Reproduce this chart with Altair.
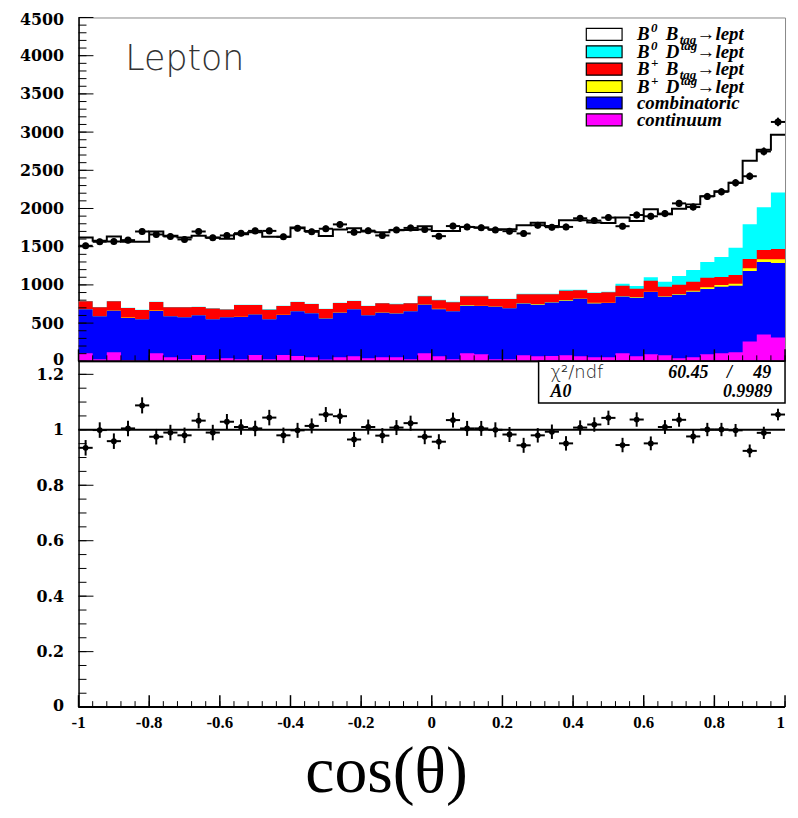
import altair as alt
import numpy as np
import pandas as pd

# ---------------- values ----------------
mc_total = [1621, 1577, 1634, 1564, 1564, 1699, 1642, 1621, 1642, 1621,
            1603, 1664, 1690, 1629, 1629, 1751, 1707, 1640, 1725, 1742,
            1700, 1690, 1716, 1720, 1768, 1707, 1707, 1759, 1750, 1727,
            1727, 1781, 1813, 1772, 1846, 1846, 1816, 1811, 1881, 1837,
            1989, 1924, 1998, 2054, 2162, 2227, 2336, 2626, 2769, 2964]
data_counts = [1512, 1564, 1568, 1586, 1699, 1660, 1634, 1595, 1699, 1616,
               1647, 1677, 1707, 1707, 1629, 1742, 1695, 1735, 1792, 1690,
               1710, 1647, 1720, 1746, 1725, 1638, 1770, 1759, 1748, 1720,
               1703, 1673, 1781, 1755, 1759, 1872, 1842, 1881, 1768, 1915,
               1898, 1933, 2067, 2019, 2158, 2218, 2336, 2422, 2747, 3133]
data_err = [39, 40, 40, 40, 41, 41, 40, 40, 41, 40,
            41, 41, 41, 41, 40, 42, 41, 42, 42, 41,
            41, 41, 41, 42, 42, 40, 42, 42, 42, 41,
            41, 41, 42, 42, 42, 43, 43, 43, 42, 44,
            44, 44, 45, 45, 46, 47, 48, 49, 52, 56]
# stack tops (each component drawn from 0, as THStack does)
top_b0_d = [789, 711, 789, 702, 676, 780, 711, 711, 715, 693,
            680, 741, 741, 680, 728, 780, 754, 689, 767, 793,
            728, 763, 754, 763, 858, 806, 780, 858, 858, 819,
            819, 884, 884, 884, 936, 936, 901, 910, 1014, 984,
            1101, 1040, 1118, 1196, 1300, 1365, 1486, 1794, 2015, 2210]
top_bp_btag = [785, 708, 785, 698, 672, 776, 708, 707, 712, 690,
               677, 737, 737, 676, 724, 776, 750, 686, 763, 789,
               724, 759, 748, 759, 852, 800, 774, 852, 850, 815,
               815, 878, 878, 878, 923, 930, 895, 905, 988, 949,
               1053, 975, 1001, 1040, 1092, 1105, 1131, 1339, 1456, 1469]
top_bp_d = [683, 592, 666, 572, 553, 665, 593, 580, 606, 553,
            580, 584, 614, 555, 610, 657, 631, 562, 640, 683,
            606, 640, 630, 657, 744, 688, 657, 736, 728, 718,
            697, 762, 749, 775, 802, 823, 767, 766, 855, 840,
            911, 853, 880, 925, 970, 1000, 1015, 1218, 1335, 1335]
top_comb = [680, 589, 663, 568, 550, 659, 590, 577, 603, 550,
            577, 581, 611, 550, 607, 654, 628, 559, 637, 680,
            603, 637, 624, 654, 741, 680, 654, 728, 724, 715,
            693, 758, 741, 771, 793, 819, 758, 762, 849, 832,
            906, 845, 871, 910, 945, 975, 988, 1183, 1300, 1287]
top_cont = [104, 26, 117, 15, 10, 104, 52, 26, 82, 26,
            40, 26, 82, 26, 82, 69, 52, 22, 52, 65,
            40, 52, 52, 26, 104, 65, 26, 104, 91, 26,
            26, 78, 65, 69, 78, 65, 52, 52, 104, 65,
            91, 78, 39, 52, 91, 104, 117, 260, 351, 312]
ratio = [0.935, 0.999, 0.959, 1.005, 1.088, 0.975, 0.990, 0.980, 1.033, 0.990,
         1.029, 1.010, 1.005, 1.044, 0.980, 0.998, 1.014, 1.055, 1.049, 0.965,
         1.010, 0.979, 1.008, 1.024, 0.975, 0.957, 1.035, 1.005, 1.005, 1.000,
         0.983, 0.944, 0.980, 0.993, 0.951, 1.008, 1.019, 1.043, 0.945, 1.037,
         0.951, 1.010, 1.036, 0.976, 1.001, 1.001, 0.998, 0.924, 0.989, 1.055]
ratio_err = [0.028, 0.028, 0.028, 0.028, 0.029, 0.028, 0.028, 0.028, 0.028, 0.028,
             0.028, 0.028, 0.028, 0.028, 0.028, 0.027, 0.027, 0.027, 0.027, 0.027,
             0.027, 0.027, 0.027, 0.027, 0.027, 0.027, 0.027, 0.027, 0.027, 0.027,
             0.027, 0.027, 0.026, 0.026, 0.026, 0.026, 0.026, 0.026, 0.026, 0.026,
             0.025, 0.025, 0.025, 0.025, 0.024, 0.024, 0.023, 0.023, 0.022, 0.021]

top_y_major = [0, 500, 1000, 1500, 2000, 2500, 3000, 3500, 4000, 4500]
top_y_minor = [v for v in range(0, 4501, 100)]
bot_y_major = [0, 0.2, 0.4, 0.6, 0.8, 1.0, 1.2]
bot_y_minor = [round(0.05 * i, 2) for i in range(0, 25)]
x_major = [-1, -0.8, -0.6, -0.4, -0.2, 0, 0.2, 0.4, 0.6, 0.8, 1]
x_minor = [round(-1 + 0.04 * i, 2) for i in range(51)]
x_labels = ["-1", "-0.8", "-0.6", "-0.4", "-0.2", "0", "0.2", "0.4", "0.6", "0.8", "1"]

# ---------------- tables ----------------
edges = np.round(np.linspace(-1, 1, 51), 4)
def ext(a):
    return list(a) + [a[-1]]
edges_df = pd.DataFrame({
    "edge": edges, "zero": 0.0,
    "mc": ext(mc_total), "cyan": ext(top_b0_d), "red": ext(top_bp_btag),
    "yellow": ext(top_bp_d), "blue": ext(top_comb), "mag": ext(top_cont),
})
bins_df = pd.DataFrame({
    "lo": edges[:-1], "hi": edges[1:], "ctr": (edges[:-1] + edges[1:]) / 2,
    "data": data_counts, "err": data_err, "ratio": ratio, "rerr": ratio_err,
})
bins_df["dlo"] = bins_df["data"] - bins_df["err"]
bins_df["dhi"] = bins_df["data"] + bins_df["err"]
bins_df["rlo"] = bins_df["ratio"] - bins_df["rerr"]
bins_df["rhi"] = bins_df["ratio"] + bins_df["rerr"]

W, H1, H2, H3 = 711, 346, 348, 90
SERIF = "Liberation Serif"
one = pd.DataFrame({"k": [0]})

xs = alt.Scale(domain=[-1, 1], nice=False, zero=False)
ys1 = alt.Scale(domain=[0, 4500], nice=False, zero=False)
ys2 = alt.Scale(domain=[0, 1.247], nice=False, zero=False)

def yaxis(vals, fmt):
    return alt.Axis(values=vals, ticks=False, grid=False, domain=True, domainColor="black",
                    domainWidth=1.5, labelFont="DejaVu Serif", labelFontWeight="bold",
                    labelFontSize=16, labelColor="black", labelPadding=15, title=None,
                    format=fmt, labelOverlap=False, labelFlush=True, labelFlushOffset=6)

ax1 = yaxis(top_y_major, "d")
ax2 = yaxis(bot_y_major, "~g")

def X(f):
    return alt.X(f"{f}:Q", scale=xs, axis=None)
def Y1(f):
    return alt.Y(f"{f}:Q", scale=ys1, axis=ax1)
def Y2(f):
    return alt.Y(f"{f}:Q", scale=ys2, axis=ax2)

def txt(s, x, y, size, font=SERIF, weight="normal", style="normal", align="left",
        color="black"):
    return alt.Chart(one).mark_text(text=s, font=font, fontSize=size, fontWeight=weight,
                                    fontStyle=style, align=align, baseline="alphabetic",
                                    color=color).encode(
        x=alt.value(x), y=alt.value(y))

def box(x1, x2, y1, y2, fill, stroke="black", sw=1.0):
    return alt.Chart(one).mark_rect(fill=fill, stroke=stroke, strokeWidth=sw).encode(
        x=alt.value(x1), x2=alt.value(x2), y=alt.value(y1), y2=alt.value(y2))

# ---------------- top panel ----------------
layers = []
for col, colr in [("cyan", "#00ffff"), ("red", "#ff0000"), ("yellow", "#ffff00"),
                  ("blue", "#0000ff"), ("mag", "#ff00ff")]:
    layers.append(alt.Chart(edges_df).mark_area(interpolate="step-after", color=colr,
                                                opacity=1).encode(
        x=X("edge"), y=Y1(col), y2=alt.Y2("zero:Q")))
layers.append(alt.Chart(edges_df).mark_line(interpolate="step-after", color="black",
                                            strokeWidth=2).encode(x=X("edge"), y=Y1("mc")))
layers.append(alt.Chart(bins_df).mark_rule(color="black", strokeWidth=2).encode(
    x=X("lo"), x2="hi:Q", y=Y1("data")))
layers.append(alt.Chart(bins_df).mark_rule(color="black", strokeWidth=2).encode(
    x=X("ctr"), y=Y1("dlo"), y2="dhi:Q"))
layers.append(alt.Chart(bins_df).mark_circle(color="black", size=50, opacity=1).encode(
    x=X("ctr"), y=Y1("data")))
# ticks
layers.append(alt.Chart(pd.DataFrame({"v": top_y_minor})).mark_rule(color="black", strokeWidth=1).encode(
    y=Y1("v"), x=alt.value(0), x2=alt.value(8)))
layers.append(alt.Chart(pd.DataFrame({"v": top_y_major})).mark_rule(color="black", strokeWidth=1).encode(
    y=Y1("v"), x=alt.value(0), x2=alt.value(15)))
layers.append(alt.Chart(pd.DataFrame({"v": x_minor})).mark_rule(color="black", strokeWidth=1).encode(
    x=X("v"), y=alt.value(H1), y2=alt.value(H1 - 6)))
layers.append(alt.Chart(pd.DataFrame({"v": x_major})).mark_rule(color="black", strokeWidth=1.5).encode(
    x=X("v"), y=alt.value(H1), y2=alt.value(H1 - 12)))
layers.append(alt.Chart(one).mark_rule(color="black", strokeWidth=2).encode(
    x=alt.value(0), x2=alt.value(W), y=alt.value(H1)))
# spacer fixing left extent
layers.append(alt.Chart(one).mark_rule(color="white", strokeWidth=1).encode(
    x=alt.value(-69.5), x2=alt.value(-69.5), y=alt.value(100), y2=alt.value(101)))
# "Lepton"
layers.append(txt("Lepton", 47, 53, 35, font="DejaVu Sans", weight=200, color="#333333"))
# legend
leg_fills = ["#ffffff", "#00ffff", "#ff0000", "#ffff00", "#0000ff", "#ff00ff"]
base = [23, 40.5, 58, 75.5, 92, 109]
for i, f in enumerate(leg_fills):
    layers.append(box(511, 547, base[i] - 12, base[i], f, sw=1.2))
for i, (sup, letter, mode) in enumerate([("0", "B", "sub"), ("0", "D", "sup"),
                                          ("+", "B", "sub"), ("+", "D", "sup")]):
    b = base[i]
    layers.append(txt("B", 562, b, 19, weight="bold", style="italic"))
    layers.append(txt(sup, 576, b - 8, 13, weight="bold", style="italic"))
    layers.append(txt(letter, 591, b, 19, weight="bold", style="italic"))
    if mode == "sub":
        layers.append(txt("tag", 605, b + 4, 13, weight="bold", style="italic"))
    else:
        layers.append(txt("tag", 606, b - 8, 13, weight="bold", style="italic"))
    layers.append(txt("→lept", 622, b, 19, weight="bold", style="italic"))
layers.append(txt("combinatoric", 562, base[4], 19, weight="bold", style="italic"))
layers.append(txt("continuum", 562, base[5], 19, weight="bold", style="italic"))

top = alt.layer(*layers).properties(width=W, height=H1,
                                    view=alt.ViewBackground(stroke="#888888", strokeWidth=1))

# ---------------- bottom panel ----------------
bl = []
bl.append(alt.Chart(pd.DataFrame({"v": [1.0]})).mark_rule(color="black", strokeWidth=2).encode(
    y=Y2("v"), x=alt.value(0), x2=alt.value(W)))
bl.append(alt.Chart(bins_df).mark_rule(color="black", strokeWidth=2).encode(
    x=X("lo"), x2="hi:Q", y=Y2("ratio")))
bl.append(alt.Chart(bins_df).mark_rule(color="black", strokeWidth=2).encode(
    x=X("ctr"), y=Y2("rlo"), y2="rhi:Q"))
bl.append(alt.Chart(bins_df).mark_circle(color="black", size=34, opacity=1).encode(
    x=X("ctr"), y=Y2("ratio")))
bl.append(alt.Chart(pd.DataFrame({"v": bot_y_minor})).mark_rule(color="black", strokeWidth=1).encode(
    y=Y2("v"), x=alt.value(0), x2=alt.value(8)))
bl.append(alt.Chart(pd.DataFrame({"v": bot_y_major})).mark_rule(color="black", strokeWidth=1).encode(
    y=Y2("v"), x=alt.value(0), x2=alt.value(15)))
bl.append(alt.Chart(pd.DataFrame({"v": x_minor})).mark_rule(color="black", strokeWidth=1).encode(
    x=X("v"), y=alt.value(H2), y2=alt.value(H2 - 6)))
bl.append(alt.Chart(pd.DataFrame({"v": x_major})).mark_rule(color="black", strokeWidth=1.5).encode(
    x=X("v"), y=alt.value(H2), y2=alt.value(H2 - 12)))
bl.append(alt.Chart(one).mark_rule(color="black", strokeWidth=2).encode(
    x=alt.value(0), x2=alt.value(W), y=alt.value(H2)))
# fit box
bl.append(box(463, W, 0, 42, "#ffffff", sw=1.5))
bl.append(txt("χ²/ndf", 475, 17, 18, font="DejaVu Sans", weight=200, color="#222222"))
bl.append(txt("60.45", W - 77, 17, 18, weight="bold", style="italic", align="right"))
bl.append(txt("/", W - 56, 17, 18, weight="bold", style="italic", align="center"))
bl.append(txt("49", W - 14, 17, 18, weight="bold", style="italic", align="right"))
bl.append(txt("A0", 475, 36, 18, weight="bold", style="italic"))
bl.append(txt("0.9989", W - 13, 36, 18, weight="bold", style="italic", align="right"))

bottom = alt.layer(*bl).properties(width=W, height=H2)

# ---------------- x labels strip ----------------
lab_df = pd.DataFrame({"v": x_major, "lab": x_labels})
sl = []
sl.append(alt.Chart(lab_df[lab_df["v"] < 1]).mark_text(
    font=SERIF, fontWeight="bold", fontSize=17, baseline="middle", color="black").encode(
    x=X("v"), y=alt.value(16), text="lab:N"))
sl.append(alt.Chart(lab_df[lab_df["v"] >= 1]).mark_text(
    font=SERIF, fontWeight="bold", fontSize=17, baseline="middle", color="black",
    align="right").encode(x=X("v"), y=alt.value(16), text="lab:N"))
sl.append(txt("cos(θ)", 310, 85, 66, align="center"))
strip = alt.layer(*sl).properties(width=W, height=H3)

chart = alt.vconcat(top, bottom, strip, spacing=0, bounds="flush").properties(
    padding={"left": 0, "top": 0, "right": 0, "bottom": 0}
).configure_view(stroke="transparent")

chart.save("out.html", embed_options={"renderer": "svg", "actions": False})
